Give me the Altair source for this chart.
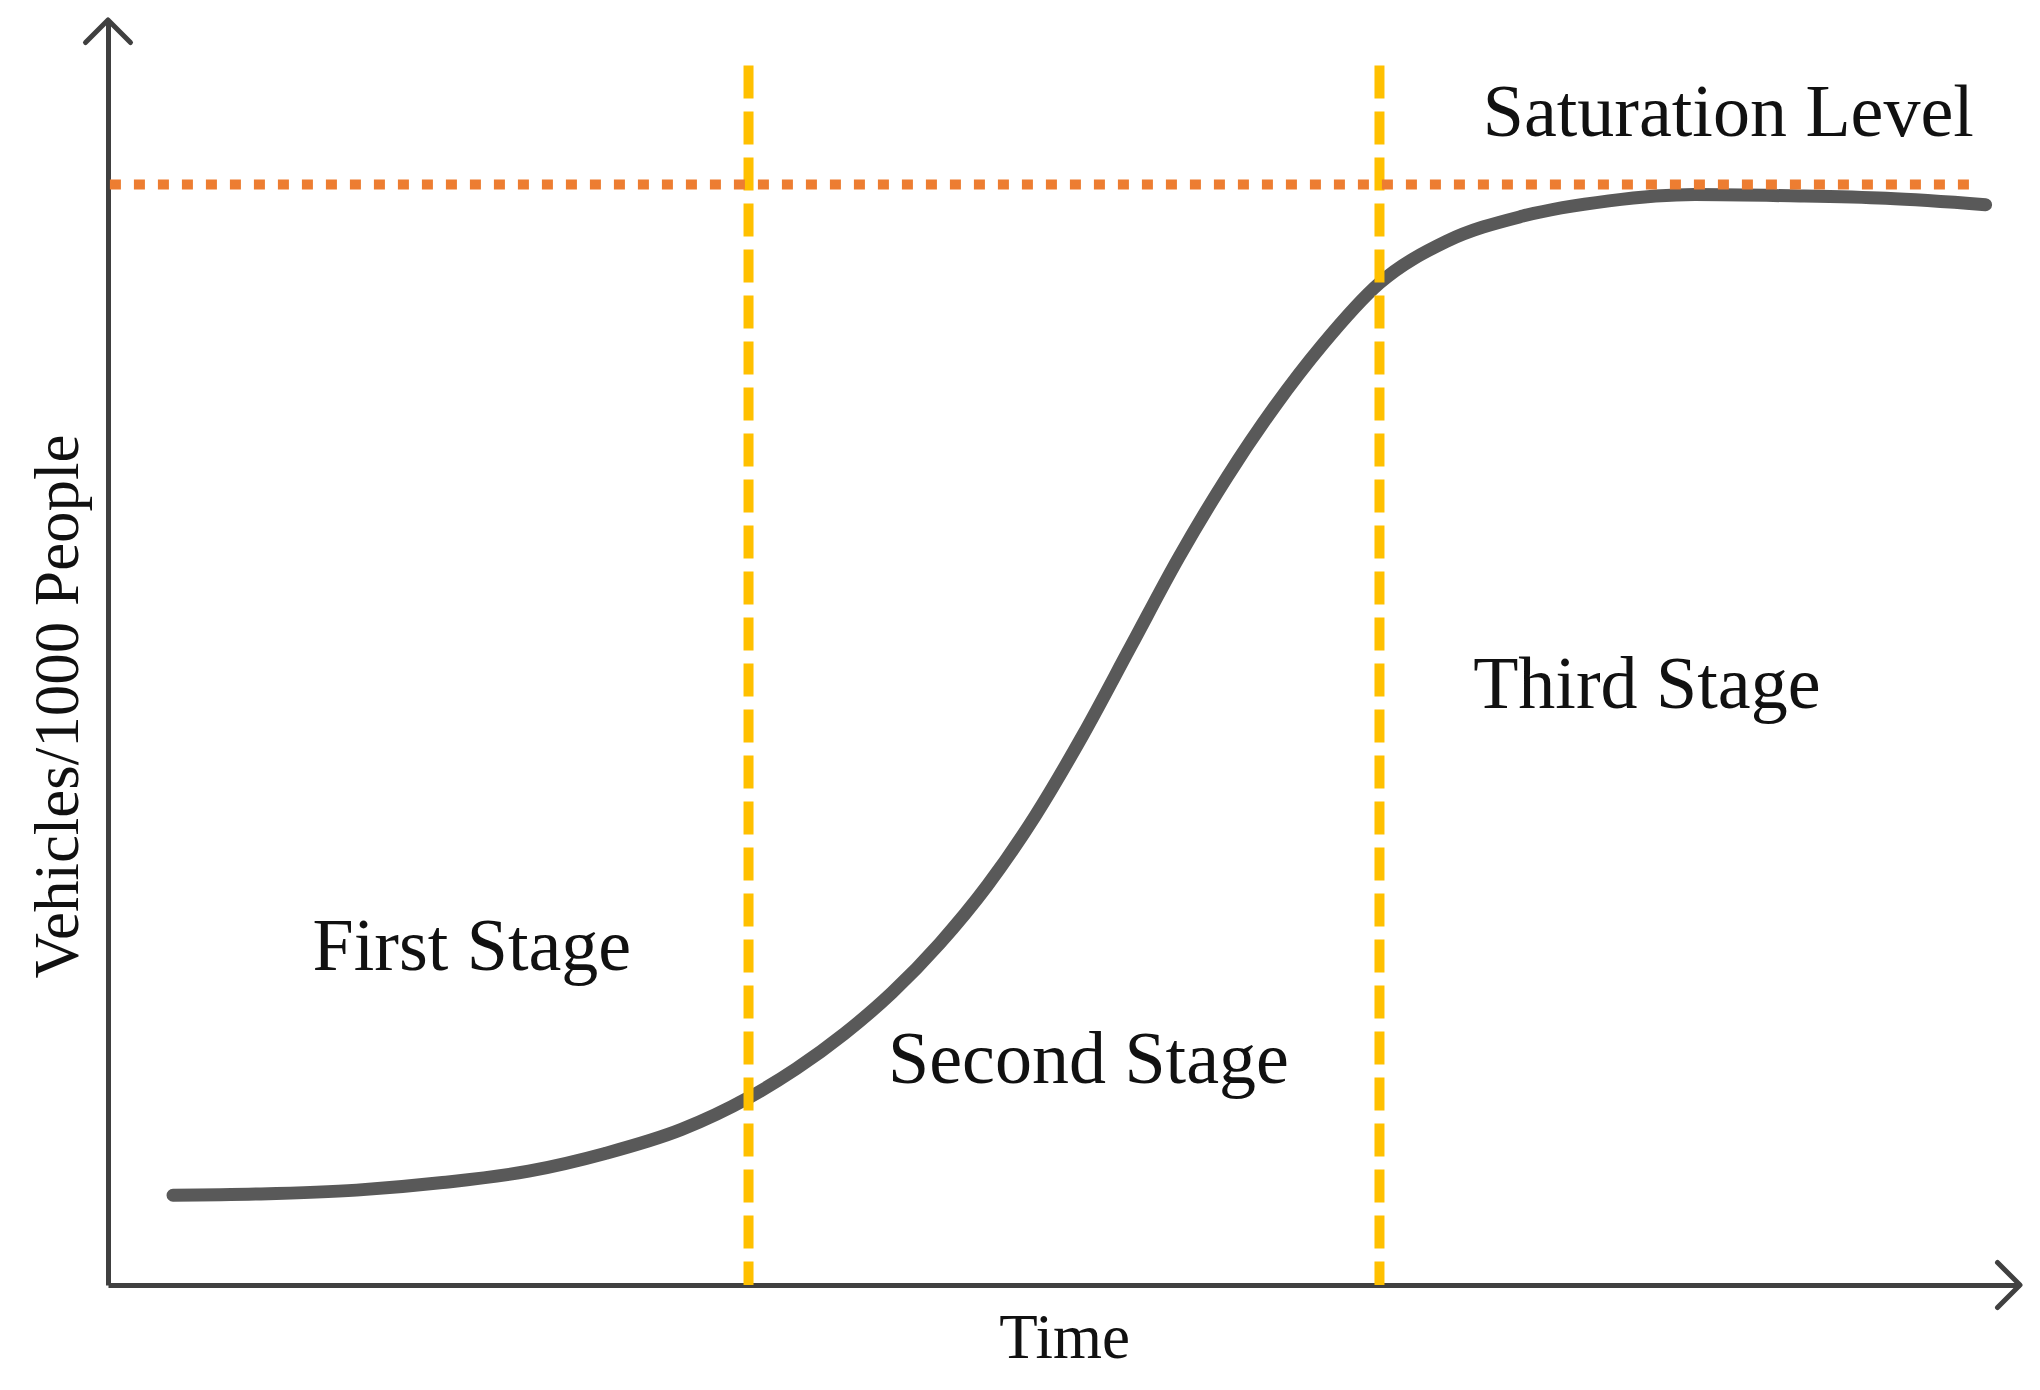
import altair as alt
import pandas as pd

# ---- data ----
time_vals = [3.4, 8.0, 13.0, 17.5, 22.0, 26.0, 30.0, 33.5, 36.0, 38.5, 41.0, 43.5,
             46.0, 48.5, 51.0, 53.5, 56.0, 58.5, 61.0, 63.5, 66.5, 70.0, 74.0,
             78.5, 83.0, 88.0, 93.0, 98.2]
vehicle_vals = [7.1, 7.2, 7.5, 8.1, 9.0, 10.4, 12.3, 14.8, 17.1, 19.85, 23.1, 27.0,
                31.6, 37.1, 43.5, 50.5, 57.5, 63.8, 69.4, 74.3, 79.2, 82.5, 84.5,
                85.7, 86.2, 86.1, 85.9, 85.4]
stage_bounds = [33.5, 66.5]
stage_line_top = 96.4
saturation_level = 87.0
saturation_span = [0.1, 97.6]
label_texts = ["First Stage", "Second Stage", "Third Stage", "Saturation Level"]
label_time = [10.7, 40.8, 71.4, 71.9]
label_vehicles = [24.9, 16.0, 45.6, 90.8]

FONT = "Liberation Serif"
AXIS_COLOR = "#404040"

curve_df = pd.DataFrame({"t": time_vals, "v": vehicle_vals})
bounds_df = pd.DataFrame({"t": stage_bounds, "v0": [0, 0], "v1": [stage_line_top] * 2})
sat_df = pd.DataFrame({"t0": [saturation_span[0]], "t1": [saturation_span[1]],
                       "v": [saturation_level]})
label_df = pd.DataFrame({"t": label_time, "v": label_vehicles, "text": label_texts})
xarrow_df = pd.DataFrame({"t": [100], "v": [0]})
yarrow_df = pd.DataFrame({"t": [0], "v": [100]})

xs = alt.Scale(domain=[0, 100], nice=False, zero=False)
ys = alt.Scale(domain=[0, 100], nice=False, zero=False)

x_axis = alt.Axis(ticks=False, labels=False, grid=False, domain=True,
                  domainColor=AXIS_COLOR, domainWidth=5,
                  title="Time", titleFont=FONT, titleFontSize=63,
                  titleFontWeight="normal", titleColor="#111111",
                  titleBaseline="alphabetic", titleAlign="center",
                  titleX=956, titleY=72)
y_axis = alt.Axis(ticks=False, labels=False, grid=False, domain=True,
                  domainColor=AXIS_COLOR, domainWidth=5,
                  title="Vehicles/1000 People", titleFont=FONT, titleFontSize=63,
                  titleFontWeight="normal", titleColor="#111111",
                  titleBaseline="alphabetic", titleAlign="center",
                  titleAngle=270, titleX=-31, titleY=686)

curve = alt.Chart(curve_df).mark_line(
    color="#595959", strokeWidth=13, strokeCap="round", interpolate="monotone"
).encode(
    x=alt.X("t:Q", scale=xs, axis=x_axis),
    y=alt.Y("v:Q", scale=ys, axis=y_axis),
)

bounds = alt.Chart(bounds_df).mark_rule(
    color="#FFC000", strokeWidth=10, strokeDash=[33, 13]
).encode(
    x=alt.X("t:Q", scale=xs),
    y=alt.Y("v1:Q", scale=ys),
    y2="v0:Q",
)

sat = alt.Chart(sat_df).mark_rule(
    color="#ED7D31", strokeWidth=10, strokeDash=[11, 13]
).encode(
    x=alt.X("t0:Q", scale=xs),
    x2="t1:Q",
    y=alt.Y("v:Q", scale=ys),
)

labels = alt.Chart(label_df).mark_text(
    font=FONT, fontSize=74, align="left", baseline="alphabetic", color="#111111"
).encode(
    x=alt.X("t:Q", scale=xs),
    y=alt.Y("v:Q", scale=ys),
    text="text:N",
)

xarrow = alt.Chart(xarrow_df).mark_point(
    shape="M-1,-1L0,0L-1,1", filled=False, stroke=AXIS_COLOR, strokeWidth=5,
    size=2025, strokeCap="round", strokeJoin="round", opacity=1
).encode(x=alt.X("t:Q", scale=xs), y=alt.Y("v:Q", scale=ys))

yarrow = alt.Chart(yarrow_df).mark_point(
    shape="M-1,1L0,0L1,1", filled=False, stroke=AXIS_COLOR, strokeWidth=5,
    size=2025, strokeCap="round", strokeJoin="round", opacity=1
).encode(x=alt.X("t:Q", scale=xs), y=alt.Y("v:Q", scale=ys))

chart = alt.layer(curve, bounds, sat, labels, xarrow, yarrow).properties(
    width=1912, height=1265,
    autosize=alt.AutoSizeParams(type="none"),
    padding={"left": 100, "top": 12, "right": 12, "bottom": 97},
    background="white",
).configure_view(stroke=None)

chart.save("out.html", embed_options={"renderer": "svg", "actions": False})
